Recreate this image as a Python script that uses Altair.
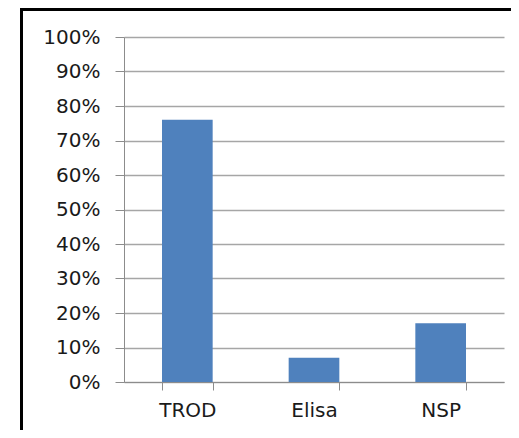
import altair as alt
import pandas as pd

categories = ["TROD", "Elisa", "NSP"]
values = [0.76, 0.07, 0.17]

df = pd.DataFrame({"cat": categories, "val": values})

FONT = "DejaVu Sans"

bars = alt.Chart(df).mark_bar(color="#4F81BD").encode(
    x=alt.X("cat:N", sort=categories,
            scale=alt.Scale(paddingInner=0.6, paddingOuter=0.3),
            axis=alt.Axis(title=None, labelAngle=0, labelFontSize=20, labelFont=FONT,
                          labelColor="#1a1a1a", labelPadding=10, tickSize=8,
                          tickColor="#8c8c8c", domainColor="#8c8c8c",
                          tickBand="extent", grid=False)),
    y=alt.Y("val:Q", scale=alt.Scale(domain=[0, 1], nice=False),
            axis=alt.Axis(title=None, format=".0%", values=[i / 10 for i in range(11)],
                          labelFontSize=20, labelFont=FONT, labelColor="#1a1a1a",
                          labelPadding=15, tickSize=9, tickColor="#8c8c8c",
                          domainColor="#8c8c8c", gridColor="#a6a6a6", gridWidth=1.5)),
)

frame_left = alt.Chart(df).mark_rule(color="#000000", strokeWidth=3).encode(
    x=alt.value(-102.5), y=alt.value(-29), y2=alt.value(420)
)
frame_top = alt.Chart(df).mark_rule(color="#000000", strokeWidth=3).encode(
    x=alt.value(-104), x2=alt.value(400), y=alt.value(-27.5)
)

chart = alt.layer(bars, frame_left, frame_top).properties(
    width=380, height=345,
    autosize=alt.AutoSizeParams(type="none"),
    padding={"left": 116, "top": 29, "right": 7, "bottom": 48},
    background="white",
).configure_view(stroke=None)

chart.save("out.html", embed_options={"renderer": "svg", "actions": False})
